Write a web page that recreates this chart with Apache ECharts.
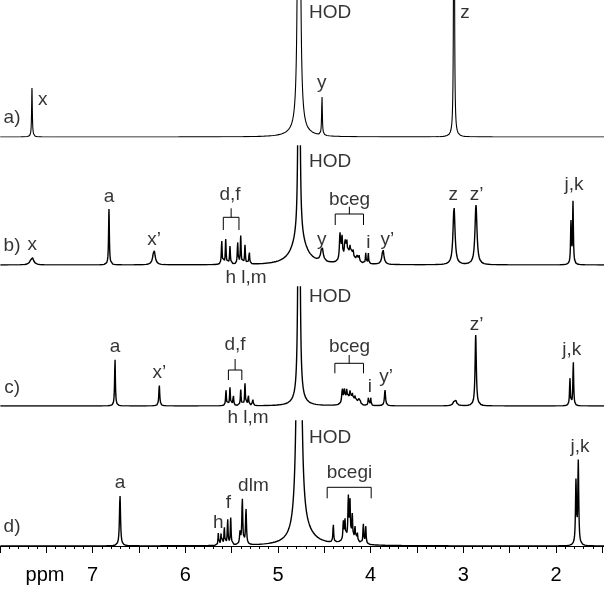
<!DOCTYPE html>
<html>
<head>
<meta charset="utf-8">
<script src="https://cdn.jsdelivr.net/npm/echarts/dist/echarts.min.js"></script>
<style>
html,body{margin:0;padding:0;background:#fff;}
#chart{width:604px;height:592px;}
</style>
</head>
<body>
<div id="chart"></div>
<script>
// ---------------- DATA ----------------
// Axis
const tickLabels = [7, 6, 5, 4, 3, 2];

// Spectrum a) : peak positions (ppm), heights (a.u.), half widths (ppm)
const aPpm    = [7.655, 4.773, 4.773, 4.525, 3.100];
const aHeight = [49,    2000,  5,     40,    500];
const aHwhm   = [0.0045,0.0057,0.108, 0.0045,0.004];

// Spectrum b)
const bPpm    = [7.655, 6.824, 6.338, 5.607, 5.564, 5.518, 5.435, 5.402, 5.356, 5.310,
                 4.773, 4.773, 4.525, 4.331, 4.309, 4.277, 4.258, 4.223, 4.190, 4.150, 4.126, 4.230,
                 4.053, 4.025, 3.867, 3.100, 2.863, 1.838, 1.816];
const bHeight = [8,     56,    15,    24,    25,    18,    22,    28,    19,    13,
                 1000,  28,    15,    27,    23,    18,    16,    10,    9,     7,     7,     8,
                 11,    11,    15,    58,    60,    42,    62];
const bHwhm   = [0.02,  0.005, 0.015, 0.005, 0.005, 0.005, 0.005, 0.005, 0.005, 0.005,
                 0.0048,0.086, 0.015, 0.007, 0.007, 0.007, 0.007, 0.007, 0.007, 0.007, 0.007, 0.06,
                 0.004, 0.004, 0.013, 0.013, 0.013, 0.005, 0.005];

// Spectrum c)
const cPpm    = [6.759, 6.281, 5.561, 5.518, 5.482, 5.402, 5.356, 5.320, 5.273,
                 4.773, 4.773, 4.306, 4.284, 4.258, 4.223, 4.198, 4.169, 4.133, 4.115, 4.220,
                 4.025, 3.999, 3.845, 3.090, 2.866, 1.849, 1.813];
const cHeight = [48,    21,    16,    18,    11,    16,    22,    11,    8,
                 1000,  6,     15,    14,    12,    9,     8,     7,     7,     5,     5,
                 8,     8,     16,    8,     71,    28,    45];
const cHwhm   = [0.005, 0.006, 0.005, 0.005, 0.005, 0.005, 0.005, 0.005, 0.005,
                 0.0054,0.065, 0.007, 0.007, 0.007, 0.007, 0.007, 0.007, 0.007, 0.007, 0.05,
                 0.004, 0.004, 0.007, 0.015, 0.008, 0.005, 0.005];

// Spectrum d)
const dPpm    = [6.705, 5.644, 5.615, 5.579, 5.543, 5.510, 5.410, 5.385, 5.345,
                 4.773, 4.720, 4.403, 4.295, 4.277, 4.241, 4.223, 4.198, 4.169, 4.144, 4.079, 4.053, 4.230,
                 1.784, 1.759];
const dHeight = [51,    12,    12,    18,    26,    27,    12,    46,    36,
                 1000,  10,    18,    19,    20,    42,    38,    24,    14,    10,    20,    18,    6,
                 63,    83];
const dHwhm   = [0.007, 0.004, 0.004, 0.005, 0.005, 0.005, 0.006, 0.006, 0.006,
                 0.0128,0.13,  0.005, 0.005, 0.005, 0.005, 0.005, 0.005, 0.005, 0.005, 0.005, 0.005, 0.08,
                 0.006, 0.006];

// Peak labels per spectrum: text, ppm, height above baseline
const aLabelText = ['a)', 'x', 'HOD', 'y', 'z'];
const aLabelPpm  = [7.870, 7.539, 4.436, 4.528, 2.982];
const aLabelH    = [19, 37, 124, 54, 124];

const bLabelText = ['b)', 'x', 'a', 'x’', 'd,f', 'h l,m', 'HOD', 'y', 'bceg', 'i', 'y’', 'z', 'z’', 'j,k'];
const bLabelPpm  = [7.870, 7.651, 6.824, 6.338, 5.518, 5.345, 4.436, 4.528, 4.228, 4.025, 3.820, 3.108, 2.856, 1.805];
const bLabelH    = [19, 20, 68, 25, 70, -13, 103, 25, 65, 22, 25, 70, 70, 80];

const cLabelText = ['c)', 'a', 'x’', 'd,f', 'h l,m', 'HOD', 'bceg', 'i', 'y’', 'z’', 'j,k'];
const cLabelPpm  = [7.870, 6.759, 6.280, 5.464, 5.323, 4.436, 4.228, 4.007, 3.834, 2.856, 1.830];
const cLabelH    = [18, 59, 33, 61, -12, 109, 59, 19, 29, 81, 56];

const dLabelText = ['d)', 'a', 'h', 'f', 'dlm', 'HOD', 'bcegi', 'j,k'];
const dLabelPpm  = [7.870, 6.705, 5.643, 5.535, 5.265, 4.436, 4.228, 1.741];
const dLabelH    = [19, 63, 23, 43, 60, 108, 73, 99];

// Brackets: [spectrum index, ppm start, ppm end, bar height, tick end height, stem top height (null = none)]
const brackets = [
  [1, 5.590, 5.421, 47.7, 35, 56.7],
  [1, 4.382, 4.077, 51, 40, 58.3],
  [2, 5.535, 5.390, 36, 26, 47],
  [2, 4.386, 4.077, 42.7, 32.7, 51],
  [3, 4.469, 3.994, 58.7, 47.7, null]
];

// ---------------- CHART ----------------
const FONT = 'Liberation Sans, Arial, sans-serif';
const gridsLayout = [
  {top: 0,   height: 137},
  {top: 146, height: 119},
  {top: 287, height: 119},
  {top: 421, height: 125}
];

function spectrum(pos, hgt, wid) {
  const xs = [];
  for (let x = 1.40; x <= 8.0001; x += 0.002) xs.push(+x.toFixed(4));
  pos.forEach(p => xs.push(p));
  xs.sort((a, b) => a - b);
  return xs.map(x => {
    let y = 0;
    for (let i = 0; i < pos.length; i++) {
      const d = x - pos[i];
      const w = wid[i];
      y += hgt[i] * w * w / (d * d + w * w);
    }
    return [x, y];
  });
}

const specs = [
  [aPpm, aHeight, aHwhm],
  [bPpm, bHeight, bHwhm],
  [cPpm, cHeight, cHwhm],
  [dPpm, dHeight, dHwhm]
];
const labels = [
  [aLabelText, aLabelPpm, aLabelH],
  [bLabelText, bLabelPpm, bLabelH],
  [cLabelText, cLabelPpm, cLabelH],
  [dLabelText, dLabelPpm, dLabelH]
];

const grid = gridsLayout.map(g => ({
  left: 0, width: 648.6, top: g.top, height: g.height,
  containLabel: false, outerBoundsMode: 'none'
}));
const xAxis = gridsLayout.map((g, i) => {
  const last = i === 3;
  return {
    type: 'value', gridIndex: i, min: 1, max: 8, inverse: true, interval: 0.5,
    show: last, offset: last ? 10 : 0,
    axisLine: {show: true, lineStyle: {color: '#000', width: 1}},
    axisTick: {show: true, length: 7, lineStyle: {color: '#000', width: 1}},
    minorTick: {show: true, splitNumber: 5, length: 3, lineStyle: {color: '#000', width: 1}},
    splitLine: {show: false}, minorSplitLine: {show: false},
    axisLabel: {
      show: true, fontSize: 20, color: '#000', fontFamily: FONT, margin: 9,
      formatter: v => tickLabels.indexOf(Math.round(v * 100) / 100) >= 0 ? String(Math.round(v)) : ''
    }
  };
});
const yAxis = gridsLayout.map((g, i) => ({
  type: 'value', gridIndex: i, min: 0, max: g.height, show: false
}));

const series = [];
specs.forEach((s, i) => {
  series.push({
    type: 'line', xAxisIndex: i, yAxisIndex: i, data: spectrum(s[0], s[1], s[2]),
    showSymbol: false, symbol: 'none', clip: true, silent: true,
    lineStyle: {color: '#000', width: i === 0 ? 1.1 : 1.4}
  });
});
brackets.forEach(b => {
  const [i, p1, p2, bar, tick, stem] = b;
  series.push({
    type: 'line', xAxisIndex: i, yAxisIndex: i, silent: true, symbol: 'none', clip: false,
    data: [[p1, tick], [p1, bar], [p2, bar], [p2, tick]],
    lineStyle: {color: '#000', width: 1}
  });
  if (stem !== null) {
    const pc = (p1 + p2) / 2;
    series.push({
      type: 'line', xAxisIndex: i, yAxisIndex: i, silent: true, symbol: 'none', clip: false,
      data: [[pc, bar], [pc, stem]],
      lineStyle: {color: '#000', width: 1}
    });
  }
});
labels.forEach((l, i) => {
  series.push({
    type: 'scatter', xAxisIndex: i, yAxisIndex: i, clip: false, silent: true,
    symbolSize: 0,
    data: l[0].map((t, k) => ({name: t, value: [l[1][k], l[2][k]]})),
    label: {
      show: true, position: 'inside', formatter: '{b}',
      fontSize: 19, color: '#000', fontFamily: FONT
    }
  });
});

const chart = echarts.init(document.getElementById('chart'), null, {renderer: 'canvas'});
chart.setOption({
  animation: false,
  backgroundColor: '#fff',
  grid, xAxis, yAxis, series,
  graphic: [{
    type: 'text', x: 45, y: 575,
    style: {text: 'ppm', fontSize: 20, fontFamily: FONT, fill: '#000', align: 'center', verticalAlign: 'middle'}
  }]
});
</script>
</body>
</html>
